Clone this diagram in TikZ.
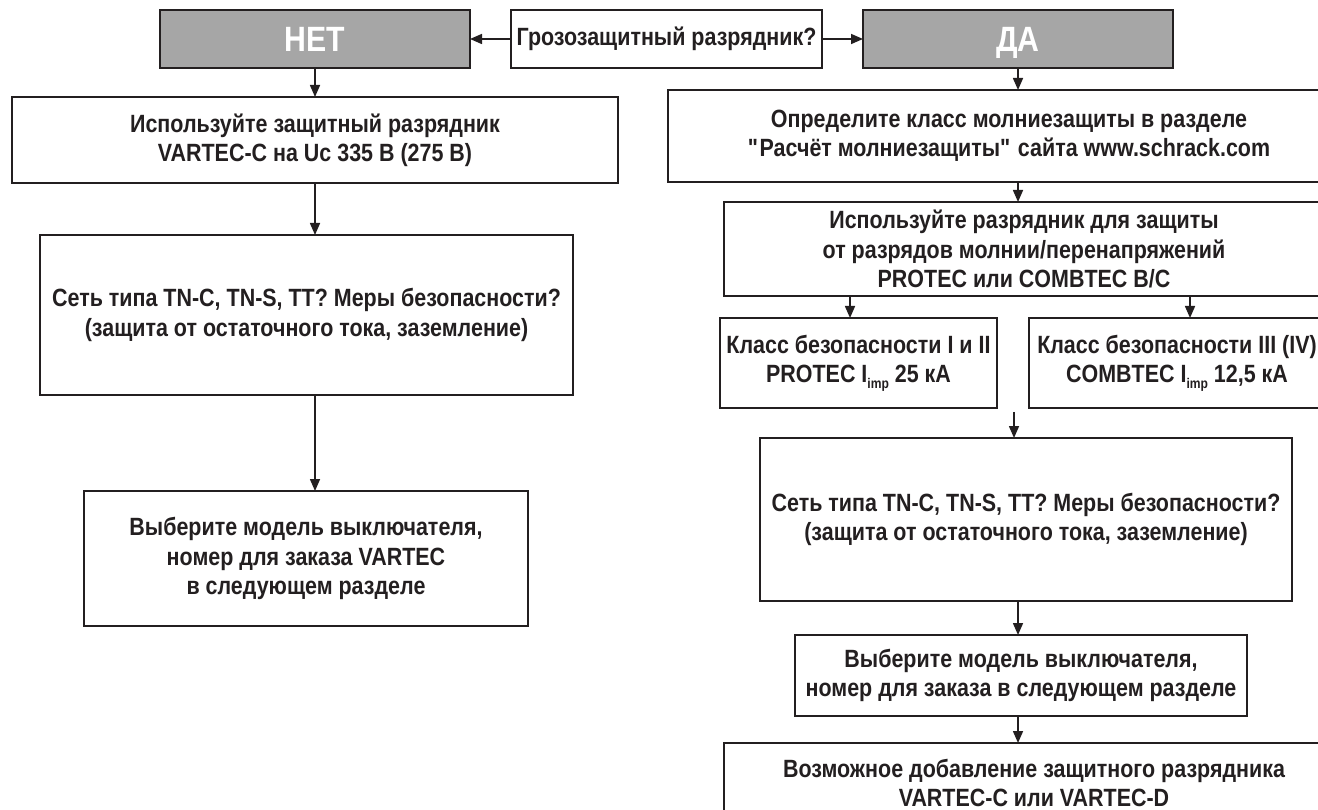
\documentclass[tikz,border=0pt]{standalone}
\usepackage{fontspec}
\setmainfont{Liberation Sans}[FakeStretch=0.86]
\usetikzlibrary{arrows.meta}
\definecolor{ink}{HTML}{231F20}
\definecolor{hdrgray}{HTML}{A6A6A6}
\newcommand{\imp}{\raisebox{-0.45ex}{\fontsize{8pt}{8pt}\selectfont imp}}
\begin{document}
\begin{tikzpicture}[x=0.02cm,y=-0.02cm,
  rect/.style 2 args={minimum width=#1*0.02cm, minimum height=#2*0.02cm},
  box/.style={draw=ink, line width=1.4pt, inner sep=0pt, outer sep=0pt, align=center,
    font=\bfseries\fontsize{14.2pt}{16.6pt}\selectfont, text=ink},
  hdr/.style={box, fill=hdrgray, text=white, text depth=0pt, font=\bfseries\fontsize{20pt}{22pt}\selectfont},
  arr/.style={draw=ink, line width=0.9pt, -{Triangle[length=0.24cm,width=0.2cm]}}]
\useasboundingbox (0,0) rectangle (1318,810);
\clip (0,0) rectangle (1318,810);
\fill[white] (0,0) rectangle (1318,810);
% top row
\node[hdr, rect={310}{58}] (net) at (315,39) {НЕТ};
\node[box, rect={311}{58}] (q) at (666.5,39) {Грозозащитный разрядник?};
\node[hdr, rect={310}{58}] (da) at (1018,39) {ДА};
% left column
\node[box, rect={606}{86}] (l1) at (315,140) {Используйте защитный разрядник\\VARTEC-C на Uc 335 В (275 В)};
\node[box, rect={533}{160}] (l2) at (306.5,315) {Сеть типа TN-C, TN-S, TT? Меры безопасности?\\(защита от остаточного тока, заземление)};
\node[box, rect={444}{135}] (l3) at (306,558.5) {Выберите модель выключателя,\\номер для заказа VARTEC\\в следующем разделе};
% right column
\node[box, rect={682}{92}] (r1) at (1009,136) {Определите класс молниезащиты в разделе\\\textquotedbl Расчёт молниезащиты\textquotedbl{} сайта www.schrack.com};
\node[box, rect={600}{94}] (r2) at (1024,249) {Используйте разрядник для защиты\\от разрядов молнии/перенапряжений\\PROTEC или COMBTEC B/C};
\node[box, rect={277}{90}] (r3a) at (858.5,363) {Класс безопасности I и II\\PROTEC I\imp{} 25 кА};
\node[box, rect={296}{90}] (r3b) at (1177,363) {Класс безопасности III (IV)\\COMBTEC I\imp{} 12,5 кА};
\node[box, rect={532}{163}] (r4) at (1026,519.5) {Сеть типа TN-C, TN-S, TT? Меры безопасности?\\(защита от остаточного тока, заземление)};
\node[box, rect={452}{81}] (r5) at (1021,675.5) {Выберите модель выключателя,\\номер для заказа в следующем разделе};
\node[box, rect={620}{80}] (r6) at (1034,783) {Возможное добавление защитного разрядника\\VARTEC-C или VARTEC-D};
% connectors
\draw[arr] (q.west) -- (net.east);
\draw[arr] (q.east) -- (da.west);
\draw[arr] (net.south) -- (net.south |- l1.north);
\draw[arr] (l1.south -| net.south) -- (l2.north -| net.south);
\draw[arr] (l2.south -| net.south) -- (l3.north -| net.south);
\draw[arr] (da.south) -- (da.south |- r1.north);
\draw[arr] (r1.south -| da.south) -- (r2.north -| da.south);
\coordinate (xa) at (850,0);
\coordinate (xb) at (1190,0);
\draw[arr] (r2.south -| xa) -- (r3a.north -| xa);
\draw[arr] (r2.south -| xb) -- (r3b.north -| xb);
\coordinate (s4) at (1014,412);
\draw[arr] (s4) -- (s4 |- r4.north);
\draw[arr] (r4.south -| da.south) -- (r5.north -| da.south);
\draw[arr] (r5.south -| da.south) -- (r6.north -| da.south);
\end{tikzpicture}
\end{document}
